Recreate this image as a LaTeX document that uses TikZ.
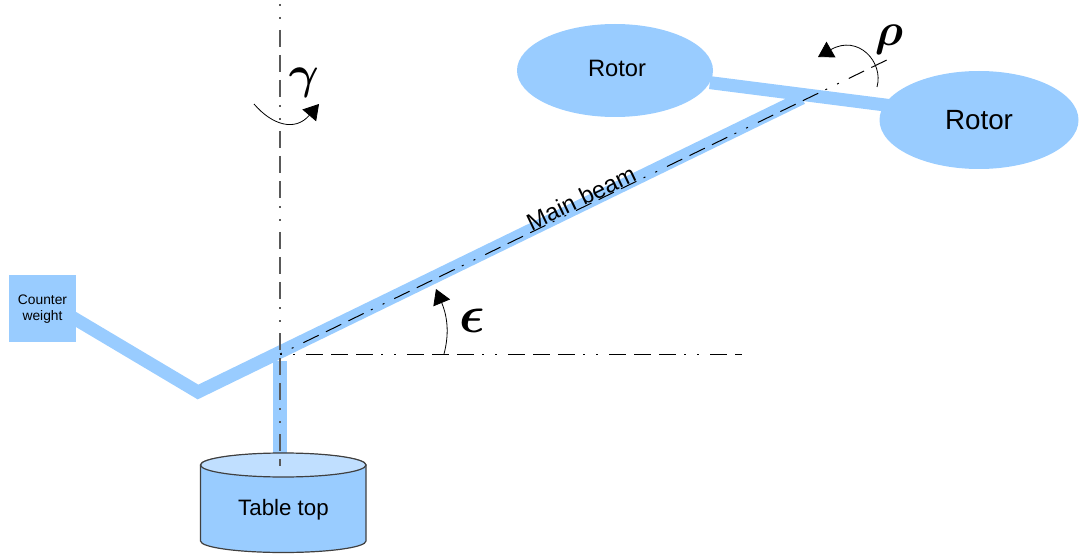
\documentclass[tikz,border=0pt]{standalone}
\usepackage{fontspec}
\setmainfont{Liberation Sans}
\usepackage{amsmath}
\usetikzlibrary{arrows.meta,backgrounds,shapes.geometric}
\definecolor{partblue}{HTML}{99CCFF}
\definecolor{partlight}{HTML}{C0DFFF}
\tikzset{
	beam/.style={draw=partblue,line width=13pt,line join=miter},
	rotor/.style={ellipse,fill=partblue,inner sep=0pt},
	axisline/.style={line width=1pt,dash pattern=on 2pt off 11pt on 2pt off 11pt on 17pt off 8pt on 17pt off 8pt on 17pt off 8pt},
	rotarrow/.style={line width=0.8pt,-{Triangle[length=15pt,width=18pt]}},
	anglelabel/.style={scale=4.6,inner sep=0pt},
}
\begin{document}
\begin{tikzpicture}[x=1pt,y=-1pt]
	\useasboundingbox (0,0) rectangle (1082,556);
	\node[rotor,minimum width=196pt,minimum height=93pt] (rotorleft) at (615,70.5) {};
	\node[font=\fontsize{23.7}{26}\selectfont] (rotorlefttext) at (617,68) {Rotor};
	\node[rotor,minimum width=199pt,minimum height=98pt] (rotorright) at (979,120) {\fontsize{27.8}{30}\selectfont Rotor};
	\node[fill=partblue,minimum size=67pt,inner sep=0pt] (counterweight) at (42.5,308.5) {};
	\node[align=center,font=\fontsize{13.8}{16}\selectfont] (counterweighttext) at (42.5,309) {Counter\\weight};
	% table top
	\draw[fill=partblue,draw=black!75,line width=1.2pt] (200.5,465) -- (200.5,541) arc[start angle=180,end angle=360,x radius=82.75pt,y radius=11.5pt] -- (366,465) arc[start angle=0,end angle=180,x radius=82.75pt,y radius=11.5pt] -- cycle;
	\draw[fill=partlight,draw=black!75,line width=1.2pt] (283.25,465) ellipse[x radius=82.75pt,y radius=12pt];
	\node[font=\fontsize{22.3}{24}\selectfont] (tabletop) at (283.5,509.5) {Table top};
	\coordinate (elbow) at (198,392);
	\coordinate (beamend) at (802,98);
	\coordinate (cwjoint) at (50,304);
	\coordinate (posttop) at (280,361);
	\begin{scope}[on background layer]
		\draw[beam] (rotorleft) -- ([yshift=3pt]rotorright.center);
		\draw[beam] (cwjoint) -- (elbow) -- (beamend);
		\draw[beam,line width=13.5pt] (posttop) -- (posttop |- tabletop);
	\end{scope}
	\node[rotate=25.5,font=\fontsize{23.8}{25}\selectfont] (mainbeam) at (581,198) {Main beam};
	% axes
	\coordinate (pivot) at (280,354);
	\coordinate (yawtop) at (280,4);
	\coordinate (yawbottom) at (280,466);
	\coordinate (pitchend) at (742,354);
	\coordinate (rollend) at (893,57);
	\draw[axisline,draw=black!65,line width=1.3pt] (yawtop) -- (yawbottom);
	\draw[axisline] (pivot) -- (pitchend);
	\draw[axisline] (pivot) -- (rollend);
	% rotation arrows
	\draw[rotarrow] (254,104) .. controls (272,125) and (295,132) .. (319,104);
	\draw[rotarrow] (877,87) .. controls (884,62) and (858,34) .. (818,57);
	\draw[rotarrow] (444,354) .. controls (449,335) and (448,318) .. (436,289);
	\node[anglelabel] (gammalabel) at (304,83) {$\boldsymbol{\gamma}$};
	\node[anglelabel] (rholabel) at (889,40) {$\boldsymbol{\rho}$};
	\node[anglelabel,scale=1.15] (epsilonlabel) at (472,321) {$\boldsymbol{\epsilon}$};
\end{tikzpicture}
\end{document}
